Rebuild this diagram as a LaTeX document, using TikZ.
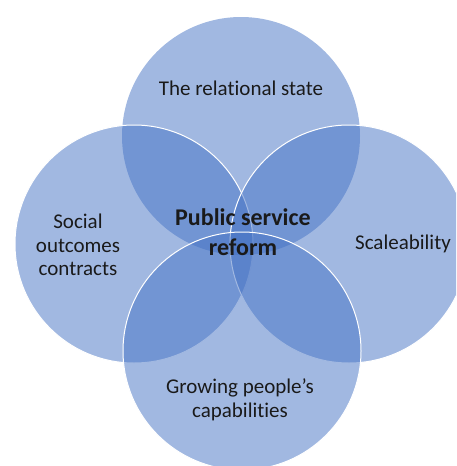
\documentclass[tikz,border=0pt]{standalone}
\usepackage{fontspec}
\setmainfont[Ligatures=NoCommon]{Carlito}
\definecolor{vennblue}{HTML}{4472C4}
\definecolor{txt}{HTML}{1A1A1A}
\begin{document}
\begin{tikzpicture}[x=1pt,y=-1pt,
  venn/.style={fill=vennblue,fill opacity=0.5},
  vennedge/.style={draw=white,line width=1pt},
  lbl/.style={text=txt,align=center,inner sep=0pt,font=\fontsize{21}{23.5}\selectfont},
  centrelbl/.style={text=txt,align=center,inner sep=0pt,font=\bfseries\fontsize{24}{29.5}\selectfont}]
\useasboundingbox (0,0) rectangle (456,466);
\begin{scope}
\clip (0,0) rectangle (456,466);
\path[venn] (241,136) circle (119pt);
\path[venn,vennedge] (134,244) circle (119pt);
\path[venn,vennedge] (349,244) circle (119pt);
\path[venn,vennedge] (242,351) circle (119pt);
\end{scope}
\node[lbl] (top) at (241,88) {The relational state};
\node[lbl] (left) at (78,245) {Social\\outcomes\\contracts};
\node[lbl] (right) at (403,244) {Scaleability};
\node[lbl] (bottom) at (240,400) {Growing people’s\\capabilities};
\node[centrelbl] (centre) at (243,232) {Public service\\reform};
\end{tikzpicture}
\end{document}
